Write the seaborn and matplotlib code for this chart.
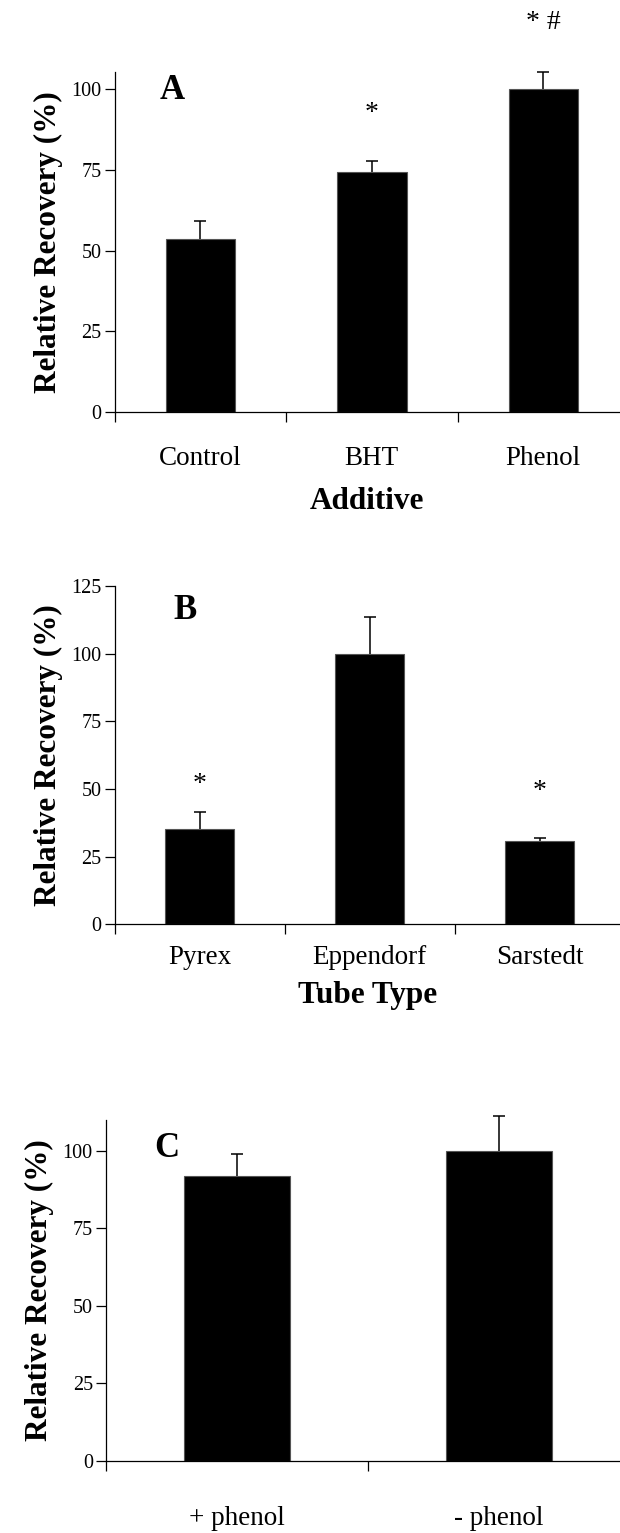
import matplotlib
matplotlib.use("Agg")
import matplotlib.pyplot as plt
import pandas as pd
import seaborn as sns

# Panel A: additive
additive = ["Control", "BHT", "Phenol"]
additive_mean = [53.6, 74.3, 100.0]
additive_err = [5.7, 3.6, 5.3]
additive_marks = {1: ("*", 92.6), 2: ("* #", 120.7)}

# Panel B: tube type
tube = ["Pyrex", "Eppendorf", "Sarstedt"]
tube_mean = [35.3, 100.0, 30.7]
tube_err = [6.1, 13.5, 1.3]
tube_marks = {0: ("*", 51.5), 2: ("*", 49.0)}

# Panel C: phenol
phenol = ["+ phenol", "- phenol"]
phenol_mean = [92.0, 100.1]
phenol_err = [7.0, 11.3]

sns.set_style("ticks")
plt.rcParams["font.family"] = ["Liberation Serif", "DejaVu Serif"]
plt.rcParams["text.color"] = "black"
plt.rcParams["axes.labelcolor"] = "black"
plt.rcParams["xtick.color"] = "black"
plt.rcParams["ytick.color"] = "black"


def draw_panel(ax, cats, means, errs, ylim, yticks, letter, letter_xy, xlabel, marks,
               cat_pad, xlabel_pad):
    df = pd.DataFrame({"cat": cats, "val": means})
    sns.barplot(data=df, x="cat", y="val", color="black", saturation=1, width=0.405,
                edgecolor="#555555", linewidth=0.8, errorbar=None, ax=ax)
    n = len(cats)
    eb = ax.errorbar(range(n), means, yerr=[[0] * n, errs], fmt="none", ecolor="black",
                     elinewidth=1.1, capsize=4, capthick=1.1, clip_on=False)
    # only the upper cap is drawn
    eb[1][0].set_visible(False)
    for c in eb[1]:
        c.set_clip_on(False)
    for c in eb[2]:
        c.set_clip_on(False)

    ax.set_ylim(*ylim)
    ax.set_yticks(yticks)
    ax.set_xticks(range(n))
    ax.set_xticklabels(cats)
    ax.set_xticks([i - 0.5 for i in range(n)], minor=True)
    ax.tick_params(axis="x", which="major", length=0, pad=cat_pad, labelsize=19.5)
    ax.tick_params(axis="x", which="minor", length=7.5, width=0.9, direction="out")
    ax.tick_params(axis="y", length=7.5, width=0.9, direction="out", pad=2, labelsize=14.5)

    sns.despine(ax=ax)
    for s in ["left", "bottom"]:
        ax.spines[s].set_color("black")
        ax.spines[s].set_linewidth(0.9)

    ax.set_ylabel("Relative Recovery (%)", fontsize=22.5, fontweight="bold", labelpad=6)
    if xlabel:
        ax.set_xlabel(xlabel, fontsize=22.5, fontweight="bold", labelpad=xlabel_pad)
    else:
        ax.set_xlabel("")

    ax.text(letter_xy[0], letter_xy[1], letter, fontsize=25, fontweight="bold",
            ha="center", va="center")
    for i, (txt, y) in marks.items():
        ax.text(i, y, txt, fontsize=20, ha="center", va="center", clip_on=False)


fig = plt.figure(figsize=(6.2, 15.33), dpi=100)

ax_a = fig.add_axes([0.185, 0.7314, 0.815, 0.2218])
draw_panel(ax_a, additive, additive_mean, additive_err, (0, 105.5), [0, 25, 50, 75, 100],
           "A", (-0.166, 99.8), "Additive", additive_marks, 25, 11)
ax_a.set_xlim(-0.5, 2.448)

ax_b = fig.add_axes([0.185, 0.3971, 0.815, 0.2206])
draw_panel(ax_b, tube, tube_mean, tube_err, (0, 125), [0, 25, 50, 75, 100, 125],
           "B", (-0.086, 116), "Tube Type", tube_marks, 15, 8)
ax_b.set_xlim(-0.5, 2.472)

ax_c = fig.add_axes([0.171, 0.0472, 0.829, 0.2222])
draw_panel(ax_c, phenol, phenol_mean, phenol_err, (0, 110), [0, 25, 50, 75, 100],
           "C", (-0.267, 100.8), None, {}, 33, 0)
ax_c.set_xlim(-0.5, 1.464)

fig.savefig("out.png", dpi=100)
